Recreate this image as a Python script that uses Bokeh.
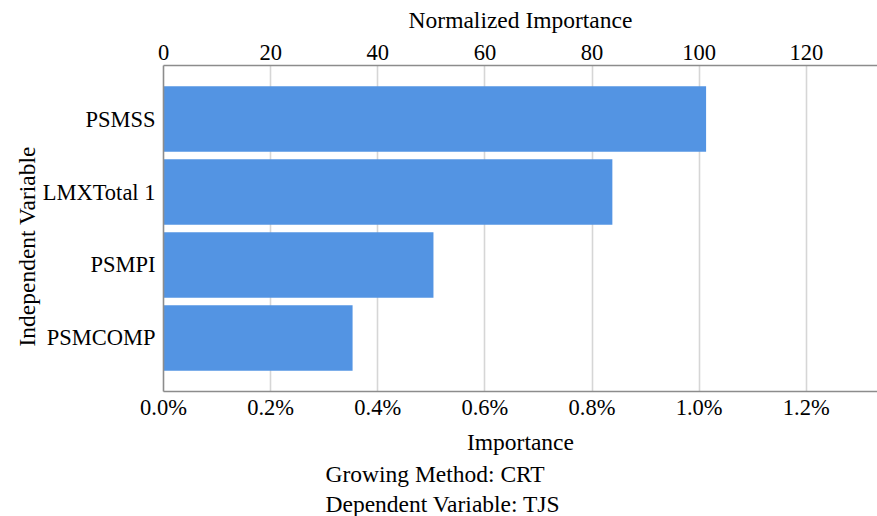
from bokeh.plotting import figure
from bokeh.models import (FactorRange, Range1d, LinearAxis, SingleIntervalTicker,
                          PrintfTickFormatter, Title, ColumnDataSource)
from bokeh.embed import file_html
from bokeh.resources import INLINE

# data
variables = ["PSMSS", "LMXTotal 1", "PSMPI", "PSMCOMP"]
importance_pct = [1.013, 0.838, 0.504, 0.353]   # Importance in %
x_max_pct = 1.333
norm_max = 133.3

FONT = "Liberation Serif"
BAR = "#5394e3"
AXIS = "#8c8c8c"
GRID = "#d6d6d6"

factors = list(reversed(variables))
src = ColumnDataSource(dict(var=variables, imp=importance_pct))

p = figure(width=877, height=516, output_backend="svg", toolbar_location=None,
           y_range=FactorRange(factors=factors, range_padding=0.1167,
                               range_padding_units="percent"),
           x_range=Range1d(0, x_max_pct),
           min_border_left=163, min_border_right=0, min_border_top=65,
           min_border_bottom=124, x_axis_location="below")
p.outline_line_color = None
p.background_fill_color = "white"
p.border_fill_color = "white"

p.hbar(y="var", right="imp", left=0, height=0.9, source=src,
       fill_color=BAR, line_color=None)

p.extra_x_ranges = {"norm": Range1d(0, norm_max)}

# bottom axis
xa = p.xaxis[0]
xa.ticker = SingleIntervalTicker(interval=0.2)
xa.formatter = PrintfTickFormatter(format="%.1f%%")
xa.axis_label = "Importance"

top = LinearAxis(x_range_name="norm", ticker=SingleIntervalTicker(interval=20),
                 axis_label="Normalized Importance")
p.add_layout(top, "above")

ya = p.yaxis[0]

for ax in [xa, top, ya]:
    ax.axis_line_color = AXIS
    ax.axis_line_width = 1.6
    ax.major_tick_line_color = None
    ax.minor_tick_line_color = None
    ax.major_label_text_font = FONT
    ax.major_label_text_font_size = "22.5px"
    ax.major_label_text_color = "black"
    ax.axis_label_text_font = FONT
    ax.axis_label_text_font_size = "23.5px"
    ax.axis_label_text_font_style = "normal"
    ax.axis_label_text_color = "black"

xa.major_label_standoff = -3
xa.axis_label_standoff = 6
top.major_label_standoff = 0
top.axis_label_standoff = 9
ya.major_label_standoff = 2

p.xgrid.grid_line_color = GRID
p.xgrid.grid_line_width = 1.6
p.ygrid.grid_line_color = None

ylab = Title(text="Independent Variable", align="left", offset=45,
             text_font=FONT, text_font_size="23.5px", text_font_style="normal",
             text_color="black", standoff=0)
p.add_layout(ylab, "left")

for i, txt in enumerate(["Growing Method: CRT", "Dependent Variable: TJS"]):
    t = Title(text=txt, align="left", offset=162, text_font=FONT,
              text_font_size="23.5px", text_font_style="normal",
              text_color="black", standoff=3 if i == 0 else 0)
    p.add_layout(t, "below")

open("out.html", "w").write(file_html(p, INLINE))
